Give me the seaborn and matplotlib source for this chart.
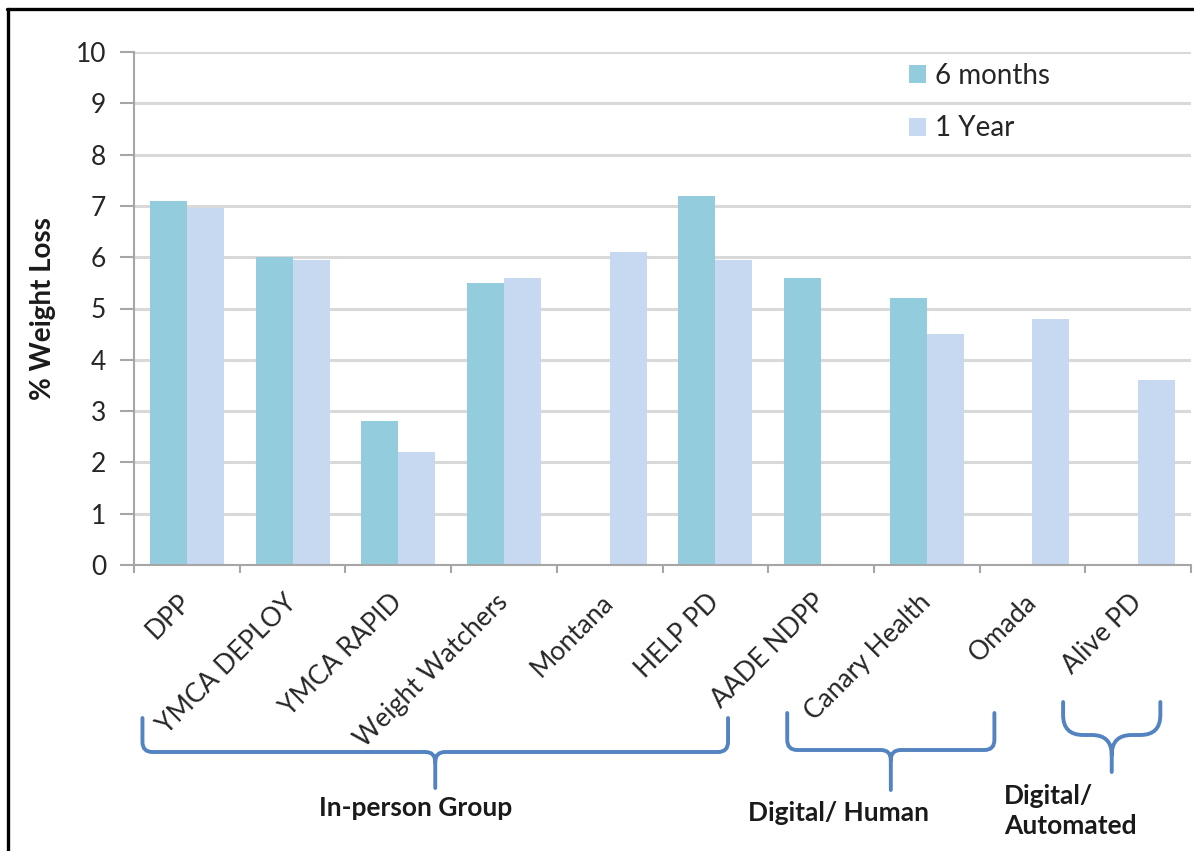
import numpy as np
import pandas as pd
import seaborn as sns
import matplotlib.pyplot as plt
from matplotlib.path import Path
from matplotlib.patches import PathPatch
from matplotlib.lines import Line2D

programs = ['DPP', 'YMCA DEPLOY', 'YMCA RAPID', 'Weight Watchers', 'Montana',
            'HELP PD', 'AADE NDPP', 'Canary Health', 'Omada', 'Alive PD']
six_months = [7.1, 6.0, 2.8, 5.5, np.nan, 7.2, 5.6, 5.2, np.nan, np.nan]
one_year = [6.95, 5.95, 2.2, 5.6, 6.1, 5.95, np.nan, 4.5, 4.8, 3.6]
periods = ['6 months', '1 Year']
y_ticks = list(range(0, 11))
groups = ['In-person Group', 'Digital/ Human', 'Digital/\nAutomated']

df = pd.DataFrame({'program': programs * 2,
                   'period': [periods[0]] * len(programs) + [periods[1]] * len(programs),
                   'loss': six_months + one_year}).dropna()

W, H = 1194, 851
sns.set_theme(style='white')
plt.rcParams['font.family'] = ['Lato', 'DejaVu Sans']

fig = plt.figure(figsize=(W / 100, H / 100), dpi=100)
ax = fig.add_axes([134 / W, 1 - 565 / H, (1191 - 134) / W, (565 - 52) / H])

sns.barplot(data=df, x='program', y='loss', hue='period', order=programs,
            hue_order=periods, palette=['#93CDDD', '#C6D9F1'], saturation=1,
            width=0.7, linewidth=0, errorbar=None, ax=ax)

ax.set_xlim(-0.5, len(programs) - 0.5)
ax.set_ylim(0, 10)
ax.set_yticks(y_ticks)
ax.yaxis.grid(True, color='#D9D9D9', lw=2.2)
ax.set_axisbelow(True)
for s in ['top', 'right']:
    ax.spines[s].set_visible(False)
for s in ['left', 'bottom']:
    ax.spines[s].set_color('#A6A6A6')
    ax.spines[s].set_linewidth(1.5)

ax.tick_params(axis='y', left=True, length=10, width=1.5, color='#A6A6A6',
               labelsize=19, labelcolor='#262626', pad=10)
ax.set_xticks(np.arange(-0.5, len(programs)), minor=True)
ax.tick_params(axis='x', which='minor', bottom=True, length=6, width=1.5, color='#A6A6A6')
ax.tick_params(axis='x', which='major', bottom=False, length=0, pad=24)
ax.set_xticks(range(len(programs)))
ax.set_xticklabels(programs, rotation=45, ha='right', va='center',
                   rotation_mode='anchor', fontsize=19, color='#262626')

ax.set_xlabel('')
ax.set_ylabel('% Weight Loss', fontsize=20, fontweight='bold', color='#1a1a1a', labelpad=14)

ax.legend(loc='upper left', bbox_to_anchor=(909 / W, 1 - 63 / H), bbox_transform=fig.transFigure,
          frameon=False, fontsize=20, borderpad=0, borderaxespad=0, handlelength=0.62,
          handleheight=0.62, handletextpad=0.3, labelspacing=0.95)


def px(x, y):
    return (x / W, 1 - y / H)


def brace(x0, x1, xm, ytop, ymid, ybot, r):
    pts = [(x0, ytop), (x0, ymid - r), (x0, ymid), (x0 + r, ymid), (xm - r, ymid),
           (xm, ymid), (xm, ymid + r), (xm, ybot),
           (xm, ymid + r), (xm, ymid), (xm + r, ymid), (x1 - r, ymid),
           (x1, ymid), (x1, ymid - r), (x1, ytop)]
    codes = [Path.MOVETO, Path.LINETO, Path.CURVE3, Path.CURVE3, Path.LINETO,
             Path.CURVE3, Path.CURVE3, Path.LINETO,
             Path.MOVETO, Path.CURVE3, Path.CURVE3, Path.LINETO,
             Path.CURVE3, Path.CURVE3, Path.LINETO]
    path = Path([px(*p) for p in pts], codes)
    fig.add_artist(PathPatch(path, transform=fig.transFigure, fill=False,
                             edgecolor='#5383C0', lw=2.8, capstyle='round'))


def cat_x(i):
    return ax.transData.transform((i, 0))[0]


brace_rows = [(cat_x(-0.42), cat_x(5.12), 718, 752, 788, 10),
              (cat_x(5.68), cat_x(7.64), 713, 750, 790, 10),
              (cat_x(8.29), cat_x(9.21), 702, 735, 772, 20)]
for (x0, x1, ytop, ymid, ybot, r) in brace_rows:
    brace(x0, x1, (x0 + x1) / 2, ytop, ymid, ybot, r)

fig.text(*px(416, 808), groups[0], ha='center', va='center', fontsize=19,
         fontweight='bold', color='#1a1a1a')
fig.text(*px(838, 813), groups[1], ha='center', va='center', fontsize=19,
         fontweight='bold', color='#1a1a1a')
fig.text(*px(1004, 811), groups[2], ha='left', va='center', fontsize=19,
         fontweight='bold', color='#1a1a1a', linespacing=1.35)

# image frame
fig.add_artist(Line2D([7 / W, 1], [1 - 9 / H, 1 - 9 / H], transform=fig.transFigure,
                      color='black', lw=2.4))
fig.add_artist(Line2D([8 / W, 8 / W], [1 - 9 / H, 0], transform=fig.transFigure,
                      color='black', lw=2.4))

fig.savefig('out.png', dpi=100)
